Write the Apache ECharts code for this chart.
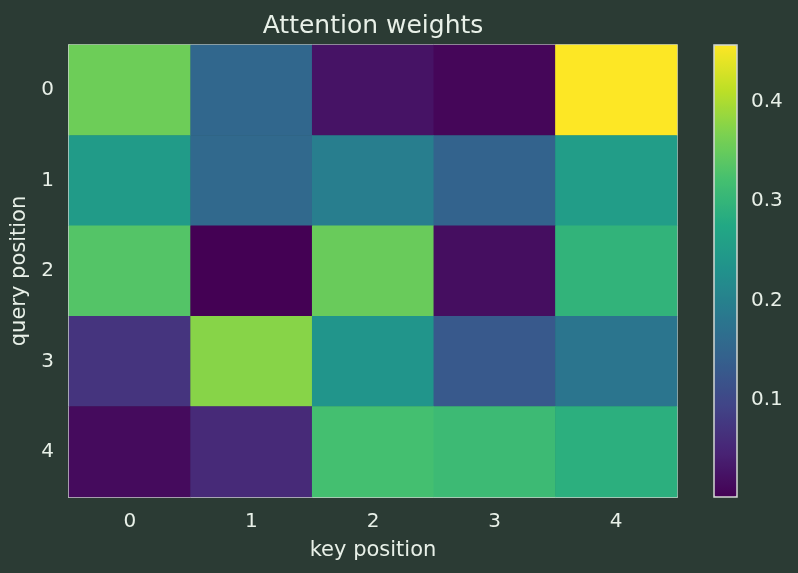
<!DOCTYPE html>
<html>
<head>
<meta charset="utf-8">
<title>Attention weights</title>
<script src="https://cdn.jsdelivr.net/npm/echarts@6/dist/echarts.min.js"></script>
<style>
  html, body { margin: 0; padding: 0; background: #2b3b34; }
  #chart { width: 798px; height: 573px; }
</style>
</head>
<body>
<div id="chart"></div>
<script>
// key positions (columns) and query positions (rows)
const keyLabels = ['0', '1', '2', '3', '4']
const queryLabels = ['0', '1', '2', '3', '4']

// attention weights, one row per query position
const row0 = [0.355, 0.153, 0.026, 0.009, 0.457]
const row1 = [0.250, 0.157, 0.195, 0.145, 0.253]
const row2 = [0.334, 0.002, 0.352, 0.019, 0.297]
const row3 = [0.070, 0.375, 0.238, 0.128, 0.179]
const row4 = [0.015, 0.056, 0.320, 0.311, 0.289]
const weights = [row0, row1, row2, row3, row4]

const colorbarTicks = [0.1, 0.2, 0.3, 0.4]
const viridis = ['#440154', '#482475', '#414487', '#355f8d', '#2a788e',
  '#21918c', '#22a884', '#44bf70', '#7ad151', '#bddf26', '#fde725']

const textColor = '#e8f0e8'
const lineColor = '#d4d9d4'

let allValues = []
weights.forEach(r => { allValues = allValues.concat(r) })
const vmin = Math.min(...allValues)
const vmax = Math.max(...allValues)

const cells = []
weights.forEach((r, qi) => {
  r.forEach((v, ki) => { cells.push([ki, qi, v]) })
})

const chart = echarts.init(document.getElementById('chart'))
chart.setOption({
  backgroundColor: '#2b3b34',
  animation: false,
  textStyle: { fontFamily: 'DejaVu Sans', color: textColor },
  title: {
    text: 'Attention weights',
    left: 368,
    top: 9,
    textAlign: 'center',
    textStyle: { color: textColor, fontSize: 25, fontWeight: 'normal', fontFamily: 'DejaVu Sans' }
  },
  grid: [
    { left: 69, top: 45, width: 608, height: 452, show: true, borderColor: lineColor, borderWidth: 1.5, backgroundColor: 'transparent' },
    { left: 714, top: 45, width: 23, height: 452, show: true, borderColor: lineColor, borderWidth: 1.5, backgroundColor: 'transparent', z: 10 }
  ],
  xAxis: [
    {
      type: 'category',
      gridIndex: 0,
      data: keyLabels,
      name: 'key position',
      nameLocation: 'middle',
      nameGap: 43,
      nameTextStyle: { color: textColor, fontSize: 21 },
      axisLine: { lineStyle: { color: lineColor, width: 1.5 } },
      axisTick: { alignWithLabel: true, length: 7, lineStyle: { color: lineColor } },
      axisLabel: { color: textColor, fontSize: 20, margin: 15 },
      splitLine: { show: false }
    },
    {
      type: 'value',
      gridIndex: 1,
      show: false
    }
  ],
  yAxis: [
    {
      type: 'category',
      gridIndex: 0,
      data: queryLabels,
      inverse: true,
      name: 'query position',
      nameLocation: 'middle',
      nameGap: 34,
      nameTextStyle: { color: textColor, fontSize: 21 },
      axisLine: { lineStyle: { color: lineColor, width: 1.5 } },
      axisTick: { alignWithLabel: true, length: 7, lineStyle: { color: lineColor } },
      axisLabel: { color: textColor, fontSize: 20, margin: 15 },
      splitLine: { show: false }
    },
    {
      type: 'value',
      gridIndex: 1,
      position: 'right',
      min: vmin,
      max: vmax,
      axisLine: { show: false },
      axisTick: { show: true, length: 6, lineStyle: { color: lineColor }, customValues: colorbarTicks },
      axisLabel: { color: textColor, fontSize: 20, margin: 14, customValues: colorbarTicks, formatter: v => v.toFixed(1) },
      splitLine: { show: false }
    }
  ],
  visualMap: {
    type: 'continuous',
    seriesIndex: 0,
    min: vmin,
    max: vmax,
    calculable: false,
    showLabel: false,
    text: null,
    left: 714,
    top: 45,
    itemWidth: 23,
    itemHeight: 452,
    padding: 0,
    inRange: { color: viridis }
  },
  series: [
    {
      type: 'heatmap',
      xAxisIndex: 0,
      yAxisIndex: 0,
      data: cells,
      itemStyle: { borderWidth: 0 },
      emphasis: { disabled: true }
    }
  ]
})
</script>
</body>
</html>
